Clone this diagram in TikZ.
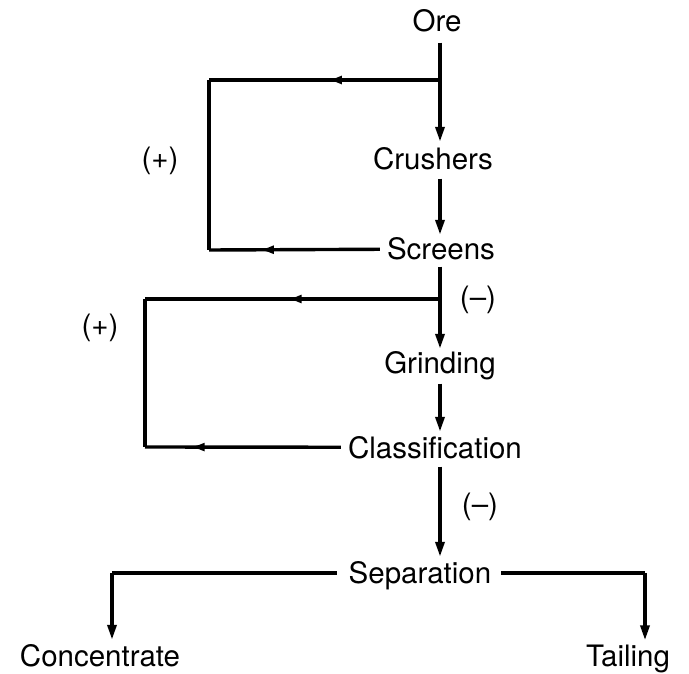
\documentclass[tikz,border=0pt]{standalone}
\usepackage{fontspec}
\setmainfont{TeX Gyre Heros}
\usetikzlibrary{arrows.meta,decorations.markings}
\begin{document}
\begin{tikzpicture}[x=1pt,y=-1pt,
  lbl/.style={font=\fontsize{29.5}{30}\selectfont, inner sep=0pt, anchor=base},
  ln/.style={line width=3.4pt},
  flow/.style={ln, -{Triangle[length=15pt,width=9pt]}},
  midarrow/.style={ln, postaction={decorate},
    decoration={markings, mark=at position #1 with {\arrow{Latex[length=15pt,width=9pt]}}}},
]
\useasboundingbox (0,0) rectangle (689,674);
% labels
\node[lbl] (ore) at (437,32) {Ore};
\node[lbl] (crushers) at (433,170) {Crushers};
\node[lbl] (screens) at (441,260) {Screens};
\node[lbl] (grinding) at (440,373) {Grinding};
\node[lbl] (classification) at (435,458) {Classification};
\node[lbl] (separation) at (420,583) {Separation};
\node[lbl] (concentrate) at (100,666) {Concentrate};
\node[lbl] (tailing) at (628,666) {Tailing};
\node[lbl] (plus1) at (160,169) {(+)};
\node[lbl] (plus2) at (100,335) {(+)};
\node[lbl] (minus1) at (478,308) {(–)};
\node[lbl] (minus2) at (480,514) {(–)};
% helper coordinates
\coordinate (mx) at (440,0);
\coordinate (j1) at (440,80);
\coordinate (tl1) at (209,80);
\coordinate (bl1) at (209,250);
\coordinate (j2) at (440,299);
\coordinate (tl2) at (145,299);
\coordinate (bl2) at (145,447);
\coordinate (cl) at (112,573);
\coordinate (cr) at (645,573);
% main flow
\draw[flow, shorten <=10pt, shorten >=6pt] (ore.south -| mx) -- (crushers.north -| mx);
\draw[flow, shorten <=8pt, shorten >=3pt] (crushers.south -| mx) -- (screens.north -| mx);
\draw[flow, shorten <=6pt, shorten >=2pt] (screens.south -| mx) -- (grinding.north -| mx);
\draw[flow, shorten <=4pt, shorten >=4pt] (grinding.south -| mx) -- (classification.north -| mx);
\draw[flow, shorten <=8pt, shorten >=4pt] (classification.south -| mx) -- (separation.north -| mx);
% recycle loops
\draw[midarrow=0.49] (j1) -- (tl1);
\draw[ln] (tl1) -- (bl1);
\draw[midarrow=0.72, shorten <=7pt] (screens.west) -- (bl1);
\draw[midarrow=0.52] (j2) -- (tl2);
\draw[ln] (tl2) -- (bl2);
\draw[midarrow=0.78, shorten <=7pt] (classification.west) -- (bl2);
% outputs
\draw[ln, shorten <=12pt] (separation.west |- cl) -- (cl);
\draw[flow, shorten >=4pt] (cl) -- (cl |- concentrate.north);
\draw[ln, shorten <=10pt] (separation.east |- cr) -- (cr);
\draw[flow, shorten >=4pt] (cr) -- (cr |- tailing.north);
\end{tikzpicture}
\end{document}
